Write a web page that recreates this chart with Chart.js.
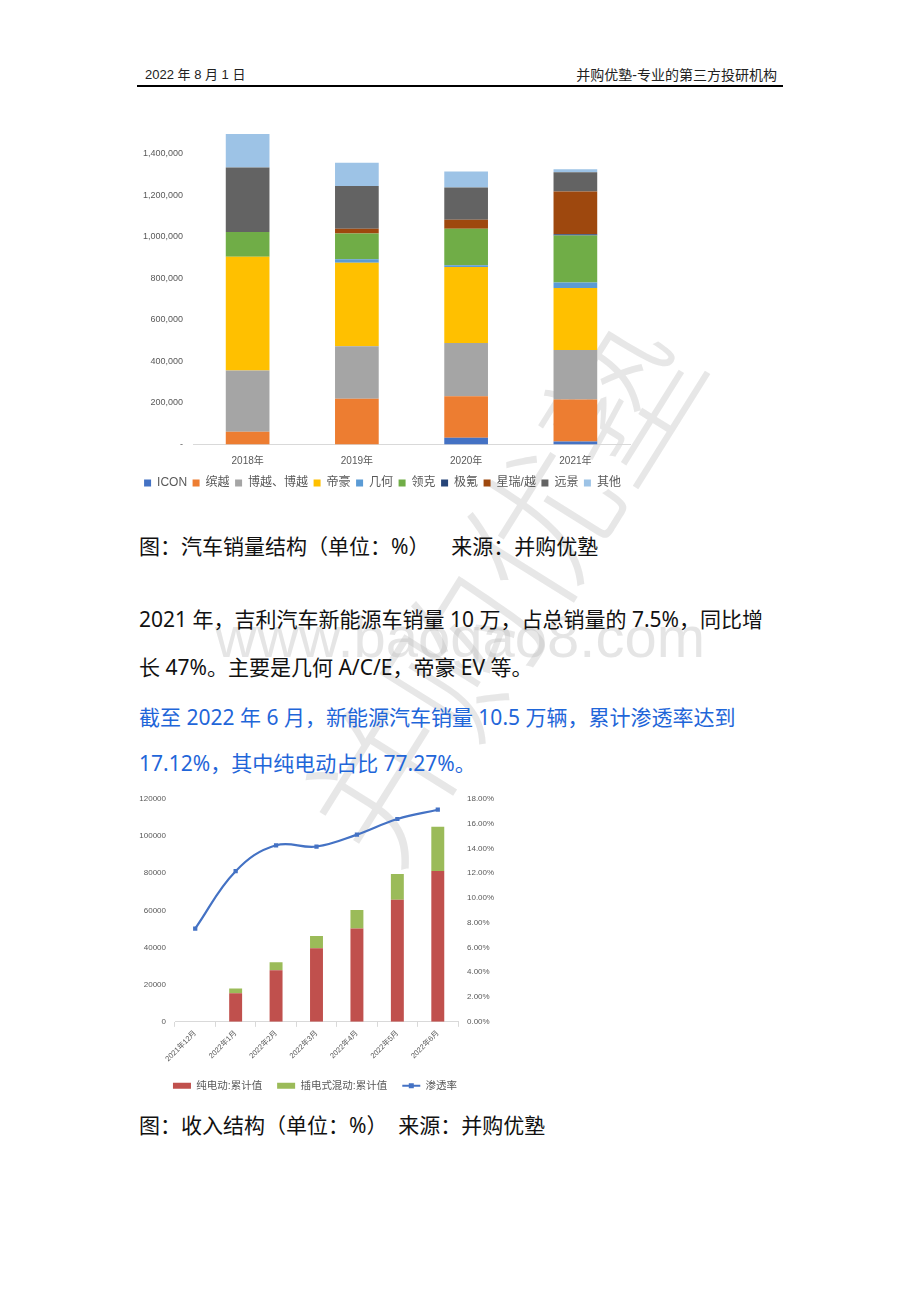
<!DOCTYPE html>
<html>
<head>
<meta charset="utf-8">
<script src="https://cdn.jsdelivr.net/npm/chart.js@4.4.0/dist/chart.umd.min.js"></script>
<style>
  body { margin:0; background:#fff; width:920px; height:1302px; position:relative; overflow:hidden;
         font-family:'Noto Sans','Noto Sans CJK SC',sans-serif; color:#111; }
  .abs { position:absolute; white-space:pre; }
  .hdr { top:66px; font-size:13px; line-height:18px; color:#222; font-family:'Liberation Sans','Noto Sans CJK SC',sans-serif; }
  .txt { left:139px; font-size:21px; line-height:24px; }
  .blue { color:#1f66d9; }
  #rule { left:137px; top:85px; width:646px; height:1.5px; background:#000; }
  .wm { color:rgba(180,180,180,0.35); pointer-events:none; }
  canvas { position:absolute; }
</style>
</head>
<body>
<div class="abs wm" style="left:215px;top:600px;font-size:58px;line-height:74px;font-family:'Liberation Sans',sans-serif;">www.baogao8.com</div>
<div class="abs wm" style="left:195px;top:505px;font-size:150px;line-height:160px;font-family:'Noto Sans CJK SC';font-weight:300;transform:rotate(-58deg);transform-origin:center;color:rgba(185,185,185,0.35);">并购优塾</div>

<div class="abs hdr" style="left:145px;">2022 年 8 月 1 日</div>
<div class="abs hdr" style="right:143px;font-size:14px;">并购优塾-专业的第三方投研机构</div>
<div class="abs" id="rule"></div>

<canvas id="c1" width="510" height="402" style="left:135px;top:97px;"></canvas>

<div class="abs txt" style="top:534px;">图：汽车销量结构（单位：%）    来源：并购优塾</div>
<div class="abs txt" style="top:607px;">2021 年，吉利汽车新能源车销量 10 万，占总销量的 7.5%，同比增</div>
<div class="abs txt" style="top:655px;">长 47%。主要是几何 A/C/E，帝豪 EV 等。</div>
<div class="abs txt blue" style="top:705px;">截至 2022 年 6 月，新能源汽车销量 10.5 万辆，累计渗透率达到</div>
<div class="abs txt blue" style="top:751px;">17.12%，其中纯电动占比 77.27%。</div>

<canvas id="c2" width="380" height="316" style="left:125px;top:785px;"></canvas>

<div class="abs txt" style="top:1113px;">图：收入结构（单位：%）  来源：并购优塾</div>

<script>
// chart 1: sales structure by brand
const years = ['2018年', '2019年', '2020年', '2021年'];
const brands = ['ICON', '缤越', '博越、博越', '帝豪', '几何', '领克', '极氪', '星瑞/越', '远景', '其他'];
const iconSales    = [0, 0, 32000, 15000];
const binyueSales  = [61000, 220000, 200000, 202000];
const boyueSales   = [295000, 253000, 257000, 238000];
const dihaoSales   = [549000, 403000, 366000, 299000];
const jiheSales    = [0, 16000, 9000, 27000];
const lynkSales    = [119000, 124000, 175000, 226000];
const zeekrSales   = [0, 0, 0, 6000];
const xingruiSales = [0, 24000, 44000, 206000];
const yuanjingSales = [310000, 206000, 155000, 93000];
const otherSales   = [162000, 112000, 77000, 14000];

// chart 2: NEV cumulative sales and penetration
const months = ['2021年12月', '2022年1月', '2022年2月', '2022年3月', '2022年4月', '2022年5月', '2022年6月'];
const bevCum  = [0, 15400, 27700, 39600, 50200, 65700, 81100];
const phevCum = [0, 2500, 4300, 6600, 10000, 13900, 23900];
const penetration = [7.53, 12.16, 14.25, 14.15, 15.11, 16.37, 17.12];

Chart.defaults.font.family = "'Liberation Sans', 'Noto Sans CJK SC', sans-serif";
Chart.defaults.color = '#595959';
Chart.defaults.animation = false;

const brandColors = ['#4472C4', '#ED7D31', '#A5A5A5', '#FFC000', '#5B9BD5', '#70AD47', '#264478', '#9E480E', '#636363', '#9DC3E6'];
const brandSeries = [iconSales, binyueSales, boyueSales, dihaoSales, jiheSales, lynkSales, zeekrSales, xingruiSales, yuanjingSales, otherSales];

new Chart(document.getElementById('c1'), {
    type: 'bar',
    data: {
        labels: years,
        datasets: brandSeries.map((vals, i) => ({
            label: brands[i],
            data: vals,
            backgroundColor: brandColors[i],
            categoryPercentage: 0.5,
            barPercentage: 0.8
        }))
    },
    options: {
        responsive: false,
        layout: { padding: { top: 0, right: 15 } },
        plugins: {
            legend: {
                position: 'bottom',
                labels: { boxWidth: 7, boxHeight: 7, padding: 5.5, font: { size: 12 }, color: '#595959' }
            },
            tooltip: { enabled: false }
        },
        scales: {
            x: {
                stacked: true,
                grid: { drawOnChartArea: false, drawTicks: false },
                border: { color: '#d9d9d9' },
                afterFit: (s) => { s.height = 27; },
                ticks: { font: { size: 10 }, padding: 11 }
            },
            y: {
                stacked: true,
                min: 0,
                max: 1600000,
                grid: { display: false, drawTicks: false },
                border: { display: false },
                afterFit: (s) => { s.width = 58; },
                ticks: {
                    stepSize: 200000,
                    padding: 10,
                    font: { size: 9 },
                    callback: (v) => v === 0 ? '-' : (v >= 1600000 ? '' : v.toLocaleString('en-US'))
                }
            }
        }
    }
});

// draws the square marker in the middle of the line legend item
const legendMarker = {
    id: 'legendMarker',
    afterDraw(chart) {
        const boxes = chart.legend.legendHitBoxes;
        const items = chart.legend.legendItems;
        const ctx = chart.ctx;
        items.forEach((it, i) => {
            if (it.pointStyle !== 'line') return;
            const b = boxes[i];
            const cx = b.left + 9, cy = b.top + b.height / 2;
            ctx.save();
            ctx.fillStyle = '#4472C4';
            ctx.fillRect(cx - 2.5, cy - 2.5, 5, 5);
            ctx.restore();
        });
    }
};

new Chart(document.getElementById('c2'), {
    type: 'bar',
    data: {
        labels: months,
        datasets: [
            { label: '纯电动:累计值', data: bevCum, backgroundColor: '#C0504D', pointStyle: 'rect',
              categoryPercentage: 0.4, barPercentage: 0.8, order: 1 },
            { label: '插电式混动:累计值', data: phevCum, backgroundColor: '#9BBB59', pointStyle: 'rect',
              categoryPercentage: 0.4, barPercentage: 0.8, order: 1 },
            { type: 'line', label: '渗透率', data: penetration, yAxisID: 'y1', order: 0,
              borderColor: '#4472C4', backgroundColor: '#4472C4', borderWidth: 2.2, tension: 0.4,
              pointStyle: 'rect', pointRadius: 3, pointBackgroundColor: '#4472C4', pointBorderWidth: 0 }
        ]
    },
    plugins: [legendMarker],
    options: {
        responsive: false,
        layout: { padding: { top: 0 } },
        plugins: {
            legend: {
                position: 'bottom',
                labels: {
                    usePointStyle: true, pointStyleWidth: 18, boxHeight: 6, padding: 15,
                    font: { size: 10.5 }, color: '#595959',
                    sort: (a, b) => a.datasetIndex - b.datasetIndex,
                    generateLabels: (chart) => {
                        const items = Chart.defaults.plugins.legend.labels.generateLabels(chart);
                        items.forEach(it => {
                            if (it.datasetIndex === 2) { it.pointStyle = 'line'; it.lineWidth = 2; it.strokeStyle = '#4472C4'; }
                            else { it.lineWidth = 0; }
                        });
                        return items;
                    }
                }
            },
            tooltip: { enabled: false }
        },
        scales: {
            x: {
                stacked: true,
                grid: { drawOnChartArea: false, drawTicks: true, tickLength: 5, color: '#d9d9d9', offset: true },
                border: { color: '#d9d9d9' },
                ticks: { font: { size: 7.5 }, minRotation: 45, maxRotation: 45, padding: 2 }
            },
            y: {
                stacked: true,
                position: 'left',
                min: 0, max: 120000,
                grid: { display: false, drawTicks: false },
                border: { display: false },
                afterFit: (s) => { s.width = 50; },
                ticks: { stepSize: 20000, padding: 9, font: { size: 8 }, callback: (v) => String(v) }
            },
            y1: {
                position: 'right',
                min: 0, max: 18,
                grid: { display: false, drawTicks: false },
                border: { display: false },
                afterFit: (s) => { s.width = 47; },
                ticks: { stepSize: 2, padding: 9, font: { size: 8 }, callback: (v) => v.toFixed(2) + '%' }
            }
        }
    }
});
</script>
</body>
</html>
